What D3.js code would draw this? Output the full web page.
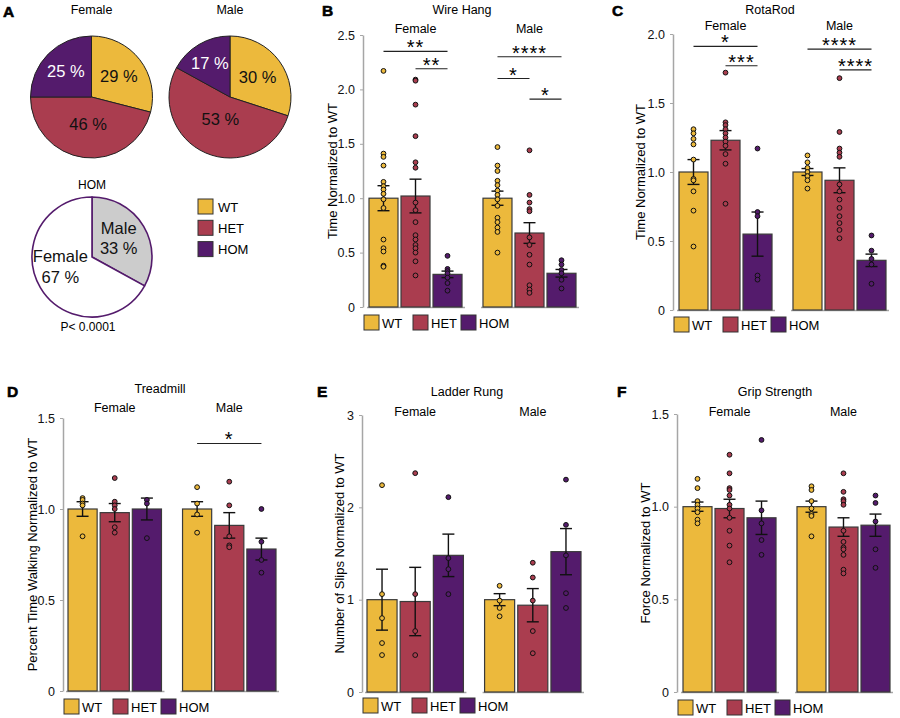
<!DOCTYPE html>
<html>
<head>
<meta charset="utf-8">
<script src="https://cdn.jsdelivr.net/npm/d3@7"></script>
<style>
  body { margin: 0; background: #fff; }
  svg { display: block; font-family: "Liberation Sans", Arial, Helvetica, sans-serif; }
</style>
</head>
<body>
<svg id="fig" width="900" height="718"></svg>
<script>
// ---- data ----
var genotypes = ["WT", "HET", "HOM"];
var sexes = ["Female", "Male"];

// panel A: genotype ratios (percent) and HOM sex ratio
var femalePct = [29, 46, 25];
var malePct = [30, 53, 17];
var homSexLabels = ["Male", "Female"];
var homSexPct = [33, 67];

// panel B: wire hang
var wireTicks = [0, 0.5, 1, 1.5, 2, 2.5];
var wireMean = [[1.00, 1.02, 0.30], [1.00, 0.68, 0.31]];
var wireSem = [[0.115, 0.155, 0.03], [0.065, 0.095, 0.035]];
var wirePoints = [
  [[2.17, 1.41, 1.38, 1.30, 1.15, 1.11, 1.08, 1.04, 0.99, 0.91, 0.62, 0.54, 0.51, 0.38, 0.37],
   [2.09, 2.08, 1.86, 1.57, 1.33, 1.28, 0.96, 0.89, 0.78, 0.66, 0.62, 0.57, 0.54, 0.50, 0.42, 0.29],
   [0.47, 0.35, 0.33, 0.31, 0.27, 0.22, 0.15]],
  [[1.47, 1.30, 1.25, 1.16, 1.12, 1.07, 1.03, 0.99, 0.93, 0.82, 0.78, 0.73, 0.69, 0.50],
   [1.44, 1.03, 0.96, 0.90, 0.88, 0.64, 0.57, 0.48, 0.39, 0.20, 0.16, 0.13],
   [0.43, 0.39, 0.34, 0.31, 0.25, 0.17]]
];
var wireSig = [
  {sex: "Female", from: "WT", to: "HOM", y: 2.35, label: "**"},
  {sex: "Female", from: "HET", to: "HOM", y: 2.19, label: "**"},
  {sex: "Male", from: "WT", to: "HOM", y: 2.30, label: "****"},
  {sex: "Male", from: "WT", to: "HET", y: 2.10, label: "*"},
  {sex: "Male", from: "HET", to: "HOM", y: 1.91, label: "*"}
];

// panel C: rotarod
var rotaTicks = [0, 0.5, 1, 1.5, 2];
var rotaMean = [[1.00, 1.23, 0.55], [1.00, 0.94, 0.36]];
var rotaSem = [[0.09, 0.07, 0.16], [0.025, 0.09, 0.045]];
var rotaPoints = [
  [[1.31, 1.28, 1.24, 1.20, 1.09, 0.95, 0.94, 0.86, 0.72, 0.46],
   [1.72, 1.36, 1.34, 1.31, 1.28, 1.25, 1.22, 1.19, 1.13, 1.06, 0.77],
   [1.17, 0.71, 0.68, 0.25, 0.22]],
  [[1.12, 1.07, 1.03, 1.00, 0.97, 0.94, 0.88],
   [1.68, 1.29, 1.17, 1.14, 1.11, 0.91, 0.86, 0.80, 0.74, 0.68, 0.63, 0.58, 0.52],
   [0.54, 0.43, 0.37, 0.33, 0.19]]
];
var rotaSig = [
  {sex: "Female", from: "WT", to: "HOM", y: 1.91, label: "*"},
  {sex: "Female", from: "HET", to: "HOM", y: 1.77, label: "***"},
  {sex: "Male", from: "WT", to: "HOM", y: 1.89, label: "****"},
  {sex: "Male", from: "HET", to: "HOM", y: 1.74, label: "****"}
];

// panel D: treadmill
var treadTicks = [0, 0.5, 1, 1.5];
var treadMean = [[1.00, 0.98, 1.00], [1.00, 0.91, 0.78]];
var treadSem = [[0.04, 0.05, 0.06], [0.04, 0.07, 0.06]];
var treadPoints = [
  [[1.06, 1.05, 1.03, 1.02, 0.85],
   [1.17, 1.04, 1.02, 1.00, 0.90, 0.87],
   [1.05, 1.03, 0.84]],
  [[1.12, 1.03, 0.97, 0.87],
   [1.15, 1.02, 0.85, 0.80, 0.79],
   [1.00, 0.82, 0.72, 0.65]]
];
var treadSig = [
  {sex: "Male", from: "WT", to: "HOM", y: 1.36, label: "*"}
];

// panel E: ladder rung
var ladderTicks = [0, 1, 2, 3];
var ladderMean = [[1.00, 0.98, 1.48], [1.00, 0.94, 1.52]];
var ladderSem = [[0.33, 0.37, 0.23], [0.065, 0.18, 0.25]];
var ladderPoints = [
  [[2.24, 1.06, 0.80, 0.53, 0.40],
   [2.37, 1.06, 0.66, 0.40],
   [2.11, 1.45, 1.33, 1.06]],
  [[1.15, 0.99, 0.91, 0.82],
   [1.40, 1.24, 0.99, 0.66, 0.42],
   [2.30, 1.81, 1.48, 1.07, 0.91]]
];

// panel F: grip strength
var gripTicks = [0, 0.5, 1, 1.5];
var gripMean = [[1.00, 0.99, 0.94], [1.00, 0.89, 0.90]];
var gripSem = [[0.025, 0.05, 0.09], [0.03, 0.05, 0.06]];
var gripPoints = [
  [[1.15, 1.10, 1.03, 1.01, 0.99, 0.97, 0.93, 0.91],
   [1.28, 1.18, 1.10, 1.09, 1.06, 1.01, 0.99, 0.94, 0.87, 0.79, 0.70],
   [1.36, 0.98, 0.91, 0.82, 0.74]],
  [[1.11, 1.09, 1.03, 0.99, 0.96, 0.95, 0.84],
   [1.18, 1.08, 1.04, 1.03, 1.01, 0.87, 0.81, 0.78, 0.77, 0.74, 0.66, 0.64],
   [1.06, 1.02, 0.92, 0.77, 0.67]]
];

// ---- drawing ----
var colors = ["#ECB93C", "#AA3D4F", "#541B6C"];
var svg = d3.select("#fig");
svg.append("rect").attr("width", 900).attr("height", 718).attr("fill", "#fff");

function panelLetter(t, x, y) {
  svg.append("text").attr("x", x).attr("y", y).text(t)
    .attr("font-size", "15.5px").attr("font-weight", "bold").attr("fill", "#000")
    .attr("stroke", "#000").attr("stroke-width", 0.6);
}

// pie charts of panel A
function drawPie(cx, cy, r, values, fills, strokeColor, strokeW) {
  var pie = d3.pie().sort(null).value(function(d) { return d; });
  var arc = d3.arc().innerRadius(0).outerRadius(r);
  var g = svg.append("g").attr("transform", "translate(" + cx + "," + cy + ")");
  var arcs = pie(values);
  g.selectAll("path").data(arcs).enter().append("path")
    .attr("d", arc)
    .attr("fill", function(d, i) { return fills[i]; })
    .attr("stroke", strokeColor)
    .attr("stroke-width", strokeW)
    .attr("stroke-linejoin", "round");
  return {g: g, arcs: arcs};
}

function genotypePie(cx, cy, title, values) {
  var R = 61;
  svg.append("text").attr("x", cx).attr("y", 14).attr("text-anchor", "middle")
    .attr("font-size", "12.5px").text(title);
  var p = drawPie(cx, cy, R, values, colors, "#222", 1);
  p.g.selectAll("text.pct").data(p.arcs).enter().append("text")
    .attr("class", "pct")
    .attr("transform", function(d) {
      // small slices get their label pushed further out
      var rr = R * (0.77 - 0.007 * d.data) * 2;
      var c = d3.arc().innerRadius(0).outerRadius(rr).centroid(d);
      return "translate(" + c + ")";
    })
    .attr("text-anchor", "middle")
    .attr("dominant-baseline", "central")
    .attr("font-size", "16.5px")
    .attr("fill", function(d, i) { return i === 2 ? "#fff" : "#111"; })
    .text(function(d) { return d.data + " %"; });
}

panelLetter("A", 3, 17);
genotypePie(91.5, 97, "Female", femalePct);
genotypePie(230, 97, "Male", malePct);

// HOM sex ratio pie
svg.append("text").attr("x", 92).attr("y", 189).attr("text-anchor", "middle")
  .attr("font-size", "12px").text("HOM");
var hom = drawPie(92, 257, 60, homSexPct, ["#CCCCCC", "#FFFFFF"], "#541B6C", 1.6);
var homLabelArc = d3.arc().innerRadius(0).outerRadius(62);
var homNudge = [[0, -7, 13], [-5, -11, 10]];
hom.arcs.forEach(function(d, i) {
  var c = homLabelArc.centroid(d);
  var n = homNudge[i];
  var t = hom.g.append("text").attr("text-anchor", "middle").attr("font-size", "16.5px").attr("fill", "#111");
  t.append("tspan").attr("x", c[0] + n[0]).attr("y", c[1] + n[1]).text(homSexLabels[i]);
  t.append("tspan").attr("x", c[0] + n[0]).attr("y", c[1] + n[2]).text(d.data + " %");
});
svg.append("text").attr("x", 88).attr("y", 331).attr("text-anchor", "middle")
  .attr("font-size", "12px").text("P< 0.0001");

// legend of panel A
genotypes.forEach(function(gt, i) {
  var y = 199 + i * 21.3;
  svg.append("rect").attr("x", 198).attr("y", y).attr("width", 15).attr("height", 15)
    .attr("fill", colors[i]).attr("stroke", "#333").attr("stroke-width", 1);
  svg.append("text").attr("x", 218).attr("y", y + 12.5).attr("font-size", "13px").text(gt);
});

// bar panels
function barPanel(p) {
  panelLetter(p.letter, p.letterX, p.letterY);
  svg.append("text").attr("x", p.titleX).attr("y", p.titleY).attr("text-anchor", "middle")
    .attr("font-size", "12.5px").text(p.title);

  var y = d3.scaleLinear().domain([0, p.yMax]).range([p.y0, p.y1]);
  var outer = d3.scaleBand().domain(sexes).range([p.left, p.right]).paddingInner(p.gap);
  var inner = d3.scaleBand().domain(genotypes).range([0, outer.bandwidth()]).paddingInner(0.094);
  var cx = function(sex, gt) { return outer(sex) + inner(gt) + inner.bandwidth() / 2; };

  // y axis
  var axis = d3.axisLeft(y).tickValues(p.ticks).tickSize(3).tickSizeOuter(0).tickPadding(5)
    .tickFormat(function(v) { return v === 0 ? "0" : p.fmt(v); });
  var ag = svg.append("g").attr("transform", "translate(" + p.axisX + ",0)").call(axis);
  ag.select(".domain").attr("stroke", "#A6A6A6").attr("stroke-width", 1.5);
  ag.selectAll(".tick line").attr("stroke", "#A6A6A6");
  ag.selectAll(".tick text").attr("font-size", "12.5px").attr("fill", "#111")
    .attr("font-family", "Liberation Sans, Arial, sans-serif");

  svg.append("text")
    .attr("transform", "translate(" + p.ytitleX + "," + ((p.y0 + p.y1) / 2) + ") rotate(-90)")
    .attr("text-anchor", "middle").attr("dominant-baseline", "central")
    .attr("font-size", "13px").text(p.ytitle);

  sexes.forEach(function(sex, si) {
    // sex label
    svg.append("text").attr("x", outer(sex) + outer.bandwidth() / 2).attr("y", p.sexY)
      .attr("text-anchor", "middle").attr("font-size", "12.5px").text(sex);
    // group baseline
    svg.append("line")
      .attr("x1", outer(sex) - 2).attr("x2", outer(sex) + outer.bandwidth() + 3)
      .attr("y1", y(0) + 0.5).attr("y2", y(0) + 0.5)
      .attr("stroke", "#A6A6A6").attr("stroke-width", 1.5);

    genotypes.forEach(function(gt, gi) {
      var m = p.mean[si][gi], s = p.sem[si][gi];
      var x0 = outer(sex) + inner(gt);
      var xc = cx(sex, gt);
      svg.append("rect")
        .attr("x", x0).attr("y", y(m))
        .attr("width", inner.bandwidth()).attr("height", y(0) - y(m))
        .attr("fill", colors[gi]).attr("stroke", "#3a3a3a").attr("stroke-width", 1.2);
      // error bar
      var eb = svg.append("g").attr("stroke", "#111").attr("stroke-width", 1.4);
      eb.append("line").attr("x1", xc).attr("x2", xc).attr("y1", y(m + s)).attr("y2", y(m - s));
      [m + s, m - s].forEach(function(v) {
        eb.append("line").attr("x1", xc - 6).attr("x2", xc + 6).attr("y1", y(v)).attr("y2", y(v));
      });
      // individual animals
      svg.selectAll(null).data(p.points[si][gi]).enter().append("circle")
        .attr("cx", xc).attr("cy", function(d) { return y(d); })
        .attr("r", 2.4)
        .attr("fill", colors[gi]).attr("stroke", "#111").attr("stroke-width", 1);
    });
  });

  // significance brackets
  (p.sig || []).forEach(function(s) {
    var x1 = cx(s.sex, s.from), x2 = cx(s.sex, s.to), yy = y(s.y);
    svg.append("line").attr("x1", x1).attr("x2", x2).attr("y1", yy).attr("y2", yy)
      .attr("stroke", "#222").attr("stroke-width", 1.2);
    svg.append("text").attr("x", (x1 + x2) / 2).attr("y", yy + 3)
      .attr("text-anchor", "middle").attr("font-size", "20px").attr("letter-spacing", "1px")
      .text(s.label);
  });

  // legend
  var offs = [1, 50, 98];
  genotypes.forEach(function(gt, i) {
    var lx = p.axisX + offs[i];
    svg.append("rect").attr("x", lx).attr("y", p.legendY).attr("width", 15).attr("height", 15)
      .attr("fill", colors[i]).attr("stroke", "#333").attr("stroke-width", 1);
    svg.append("text").attr("x", lx + 18).attr("y", p.legendY + 12.5)
      .attr("font-size", "13px").text(gt);
  });
}

var f1 = d3.format(".1f"), f0 = d3.format("d");

barPanel({letter: "B", letterX: 322, letterY: 16, title: "Wire Hang", titleX: 462, titleY: 14, sexY: 33,
  axisX: 363, left: 369, right: 576, gap: 0.184, y0: 307, y1: 35, yMax: 2.5, ticks: wireTicks, fmt: f1,
  ytitle: "Time Normalized to WT", ytitleX: 332, legendY: 315,
  mean: wireMean, sem: wireSem, points: wirePoints, sig: wireSig});

barPanel({letter: "C", letterX: 612, letterY: 16, title: "RotaRod", titleX: 770, titleY: 14, sexY: 30,
  axisX: 673, left: 679, right: 886, gap: 0.184, y0: 310, y1: 34, yMax: 2, ticks: rotaTicks, fmt: f1,
  ytitle: "Time Normalized to WT", ytitleX: 640, legendY: 317,
  mean: rotaMean, sem: rotaSem, points: rotaPoints, sig: rotaSig});

barPanel({letter: "D", letterX: 7, letterY: 397, title: "Treadmill", titleX: 160, titleY: 393, sexY: 412,
  axisX: 63, left: 68, right: 276, gap: 0.184, y0: 691, y1: 418, yMax: 1.5, ticks: treadTicks, fmt: f1,
  ytitle: "Percent Time Walking Normalized to WT", ytitleX: 32, legendY: 699,
  mean: treadMean, sem: treadSem, points: treadPoints, sig: treadSig});

barPanel({letter: "E", letterX: 317, letterY: 397, title: "Ladder Rung", titleX: 467, titleY: 396, sexY: 416,
  axisX: 362, left: 367, right: 581, gap: 0.18, y0: 692, y1: 415, yMax: 3, ticks: ladderTicks, fmt: f0,
  ytitle: "Number of Slips Normalized to WT", ytitleX: 339, legendY: 698,
  mean: ladderMean, sem: ladderSem, points: ladderPoints});

barPanel({letter: "F", letterX: 617, letterY: 397, title: "Grip Strength", titleX: 775, titleY: 396, sexY: 416,
  axisX: 677, left: 683, right: 890, gap: 0.184, y0: 692, y1: 414, yMax: 1.5, ticks: gripTicks, fmt: f1,
  ytitle: "Force Normalized to WT", ytitleX: 645, legendY: 700,
  mean: gripMean, sem: gripSem, points: gripPoints});
</script>
</body>
</html>
